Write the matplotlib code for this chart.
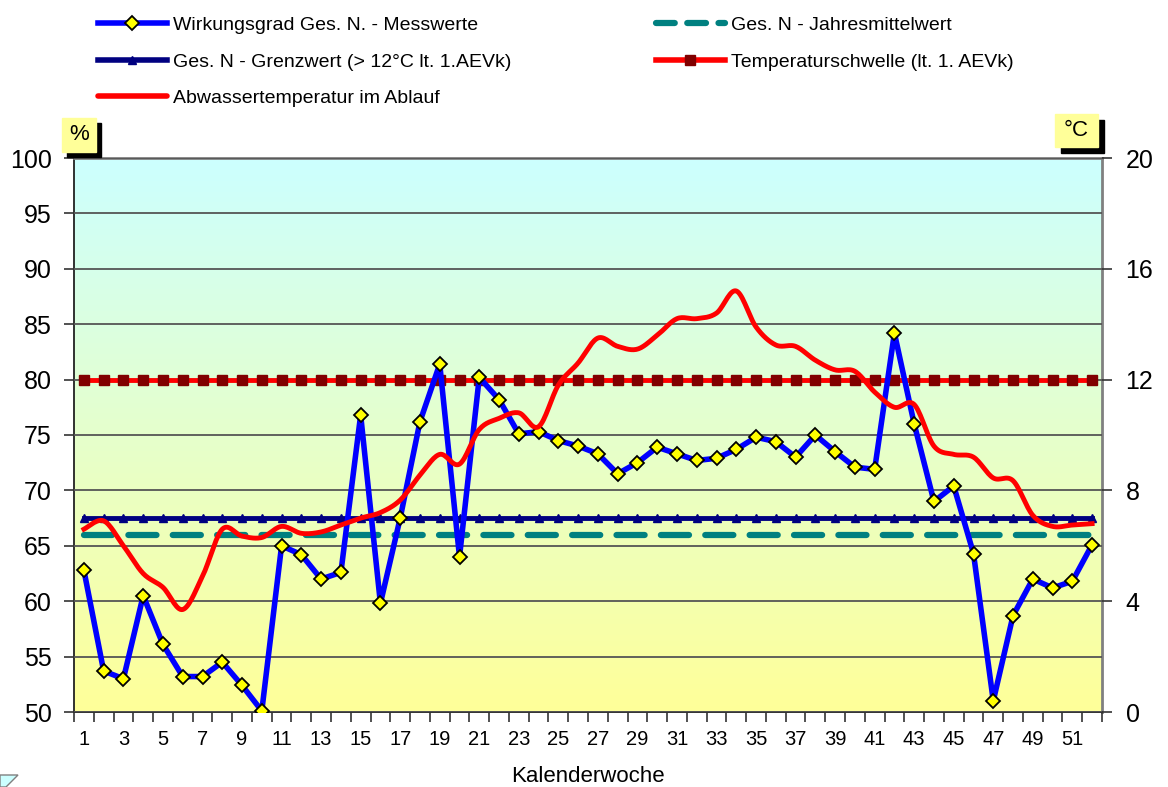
import numpy as np
import matplotlib
matplotlib.use("Agg")
import matplotlib.pyplot as plt
from matplotlib.patches import Rectangle
from matplotlib.lines import Line2D

plt.rcParams['font.family'] = ['Liberation Sans', 'DejaVu Sans']

weeks = list(range(1, 53))

# Wirkungsgrad Ges. N - Messwerte (%)
wirkungsgrad = [62.8, 53.7, 53.0, 60.5, 56.1, 53.2, 53.2, 54.5, 52.4, 50.1,
                65.0, 64.2, 62.0, 62.6, 76.8, 59.8, 67.5, 76.2, 81.4, 64.0,
                80.2, 78.2, 75.1, 75.3, 74.5, 74.0, 73.3, 71.5, 72.5, 73.9,
                73.3, 72.7, 72.9, 73.7, 74.8, 74.4, 73.0, 75.0, 73.5, 72.1,
                71.9, 84.2, 76.0, 69.0, 70.4, 64.3, 51.0, 58.7, 62.0, 61.2,
                61.8, 65.1]

# Abwassertemperatur im Ablauf (°C)
temperatur = [6.6, 6.9, 6.0, 5.0, 4.5, 3.7, 4.9, 6.6, 6.35, 6.3,
              6.7, 6.45, 6.5, 6.75, 7.0, 7.2, 7.65, 8.55, 9.3, 8.95,
              10.2, 10.6, 10.8, 10.3, 11.8, 12.6, 13.5, 13.2, 13.1, 13.6,
              14.2, 14.2, 14.4, 15.2, 13.9, 13.25, 13.2, 12.7, 12.35, 12.3,
              11.55, 11.0, 11.1, 9.6, 9.3, 9.2, 8.45, 8.35, 7.1, 6.7,
              6.75, 6.8]

jahresmittel = 66.0
grenzwert = 67.5
temp_schwelle = 12.0

y_ticks = [50, 55, 60, 65, 70, 75, 80, 85, 90, 95, 100]
t_ticks = [0, 4, 8, 12, 16, 20]
x_labels = list(range(1, 53, 2))


def catmull_rom(x, y, n=16):
    # smoothed line like the spreadsheet "smooth line" option
    x = np.asarray(x, float)
    y = np.asarray(y, float)
    xs, ys = [], []
    for i in range(len(x) - 1):
        i0 = max(i - 1, 0)
        i3 = min(i + 2, len(x) - 1)
        t = np.linspace(0, 1, n, endpoint=False)
        for arr, out in ((x, xs), (y, ys)):
            p0, p1, p2, p3 = arr[i0], arr[i], arr[i + 1], arr[i3]
            out.extend(0.5 * ((2 * p1) + (-p0 + p2) * t +
                              (2 * p0 - 5 * p1 + 4 * p2 - p3) * t ** 2 +
                              (-p0 + 3 * p1 - 3 * p2 + p3) * t ** 3))
    xs.append(x[-1])
    ys.append(y[-1])
    return xs, ys


def main():
    W, H = 1168, 787
    fig = plt.figure(figsize=(W / 100, H / 100), dpi=100)
    left, right, top, bottom = 74, 1102, 158, 712
    ax = fig.add_axes([left / W, 1 - bottom / H, (right - left) / W, (bottom - top) / H])

    # gradient background
    grad = np.linspace(0, 1, 256).reshape(-1, 1)
    c_top = np.array([204, 255, 255]) / 255
    c_bot = np.array([255, 255, 153]) / 255
    img = c_top[None, None, :] * (1 - grad[:, :, None]) + c_bot[None, None, :] * grad[:, :, None]
    ax.imshow(img, extent=[0, 1, 0, 1], transform=ax.transAxes, aspect='auto', zorder=0)

    ax.set_xlim(0.5, 52.5)
    ax.set_ylim(50, 100)
    ax.set_yticks(y_ticks)
    ax.yaxis.grid(True, color='#555555', lw=1.3, zorder=1)
    ax.set_axisbelow(False)

    ax.plot(weeks, [jahresmittel] * 52, color='#008080', lw=4.5, ls=(0, (4.5, 2.6)),
            dash_capstyle='round', zorder=3)
    ax.plot(weeks, [grenzwert] * 52, color='#000080', lw=3.5, marker='^', ms=6,
            mfc='#000080', mec='#000080', zorder=4)
    ax.plot(weeks, [80] * 52, color='#FF0000', lw=3.5, marker='s', ms=7,
            mfc='#800000', mec='#800000', zorder=4)
    ax.plot(weeks, wirkungsgrad, color='#0000FF', lw=4, marker='D', ms=7,
            mfc='#FFFF00', mec='black', mew=1.3, zorder=5)

    ax.set_xticks(x_labels)
    ax.set_xticklabels([str(v) for v in x_labels], fontsize=14.5)
    ax.set_xticks(np.arange(0.5, 53, 1), minor=True)
    ax.tick_params(axis='x', which='major', length=0, pad=13)
    ax.tick_params(axis='x', which='minor', length=7, width=1.2, color='#333333')
    ax.tick_params(axis='y', length=7, width=1.2, color='#333333', labelsize=18, pad=9)
    ax.set_xlabel('Kalenderwoche', fontsize=16, labelpad=12)

    for s in ('top', 'right'):
        ax.spines[s].set_color('#808080')
        ax.spines[s].set_linewidth(2)
    ax.spines['left'].set_color('#222222')
    ax.spines['bottom'].set_color('#222222')
    ax.spines['left'].set_linewidth(1.3)
    ax.spines['bottom'].set_linewidth(1.3)

    ax2 = ax.twinx()
    ax2.set_ylim(0, 20)
    ax2.set_yticks(t_ticks)
    ax2.tick_params(axis='y', length=7, width=1.2, color='#333333', labelsize=18, pad=10)
    for s in ax2.spines.values():
        s.set_visible(False)
    sx, sy = catmull_rom(weeks, temperatur)
    ax2.plot(sx, sy, color='#FF0000', lw=3.5, zorder=4)

    # unit boxes with shadow
    def unit_box(x0, y0, w, h, txt, off):
        fig.patches.append(Rectangle(((x0 + off) / W, 1 - (y0 + h + off) / H), w / W, h / H,
                                     transform=fig.transFigure, color='black', zorder=10))
        fig.patches.append(Rectangle((x0 / W, 1 - (y0 + h) / H), w / W, h / H,
                                     transform=fig.transFigure, color='#FFFF99', zorder=11))
        fig.text((x0 + w / 2) / W, 1 - (y0 + h / 2) / H, txt, fontsize=16,
                 ha='center', va='center', zorder=12)

    unit_box(62, 118, 34, 34, '%', 5)
    unit_box(1055, 114, 43, 33, '°C', 6)

    # small corner mark bottom-left
    fig.patches.append(plt.Polygon([[0, 1 - 775 / H], [18 / W, 1 - 775 / H], [6 / W, 0], [0, 0]],
                                   closed=True, transform=fig.transFigure,
                                   facecolor='#CCFFFF', edgecolor='#808080', lw=1))

    handles = [
        Line2D([], [], color='#0000FF', lw=4, marker='D', ms=7, mfc='#FFFF00', mec='black', mew=1.3),
        Line2D([], [], color='#000080', lw=4, marker='^', ms=6, mfc='#000080', mec='#000080'),
        Line2D([], [], color='#FF0000', lw=4, solid_capstyle='round'),
        Line2D([], [], color='#008080', lw=4.5, ls=(0, (3, 2)), dash_capstyle='round'),
        Line2D([], [], color='#FF0000', lw=4, marker='s', ms=7, mfc='#800000', mec='#800000'),
    ]
    labels = ['Wirkungsgrad Ges. N. - Messwerte',
              'Ges. N - Grenzwert (> 12°C lt. 1.AEVk)',
              'Abwassertemperatur im Ablauf',
              'Ges. N - Jahresmittelwert',
              'Temperaturschwelle (lt. 1. AEVk)']
    fig.legend(handles, labels, ncol=2, loc='upper left', bbox_to_anchor=(80 / W, 1 + 1 / H),
               frameon=False, fontsize=14, numpoints=1, handlelength=3.55,
               handletextpad=0.35, labelspacing=0.97, columnspacing=7.4)

    fig.savefig('out.png', dpi=100)


if __name__ == "__main__":
    main()
